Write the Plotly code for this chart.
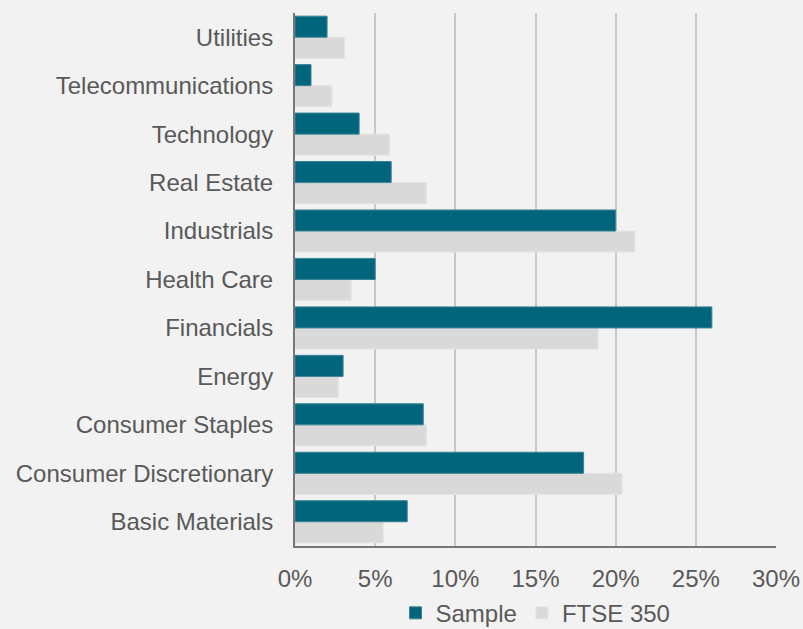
import plotly.graph_objects as go

sectors = [
    "Basic Materials", "Consumer Discretionary", "Consumer Staples", "Energy",
    "Financials", "Health Care", "Industrials", "Real Estate",
    "Technology", "Telecommunications", "Utilities",
]
sample = [7.0, 18.0, 8.0, 3.0, 26.0, 5.0, 20.0, 6.0, 4.0, 1.0, 2.0]
ftse350 = [5.5, 20.4, 8.2, 2.7, 18.9, 3.5, 21.2, 8.2, 5.9, 2.3, 3.1]
x_ticks = [0, 5, 10, 15, 20, 25, 30]
x_tick_labels = ["0%", "5%", "10%", "15%", "20%", "25%", "30%"]

TEAL = "#02657b"
LIGHT = "#d9d9d9"
TEXT = "#595959"
FONT = "Arial, Liberation Sans, sans-serif"

fig = go.Figure()
# FTSE trace first so it sits below the Sample bar in each group
fig.add_trace(go.Bar(
    y=sectors, x=ftse350, orientation="h", name="FTSE 350",
    marker=dict(color=LIGHT, line=dict(color="#e4e4e4", width=1)),
    legendrank=2,
))
fig.add_trace(go.Bar(
    y=sectors, x=sample, orientation="h", name="Sample",
    marker=dict(color=TEAL, line=dict(color="#3b8494", width=1)),
    legendrank=1,
))

fig.update_layout(
    width=803, height=629,
    margin=dict(l=295, r=27, t=13, b=83, autoexpand=False),
    paper_bgcolor="#f2f2f2", plot_bgcolor="#f2f2f2",
    barmode="group", bargap=0.13, bargroupgap=0,
    font=dict(family=FONT, size=24, color=TEXT),
    showlegend=True,
    legend=dict(
        orientation="h", x=0.5, xanchor="center", y=-0.084, yanchor="top",
        font=dict(size=24, color=TEXT), itemwidth=30, tracegroupgap=0,
        bgcolor="rgba(0,0,0,0)",
    ),
    xaxis=dict(
        range=[0, 30], tickvals=x_ticks, ticktext=x_tick_labels,
        showgrid=True, gridcolor="#c8c8c8", gridwidth=1.5,
        showline=True, linecolor="#767676", linewidth=2,
        zeroline=False, ticks="", ticklabelstandoff=10,
        tickfont=dict(size=24, color=TEXT),
    ),
    yaxis=dict(
        showline=True, linecolor="#767676", linewidth=2,
        showgrid=False, ticks="", ticklabelstandoff=15,
        tickfont=dict(size=24, color=TEXT),
    ),
)

fig.write_html("out.html")
